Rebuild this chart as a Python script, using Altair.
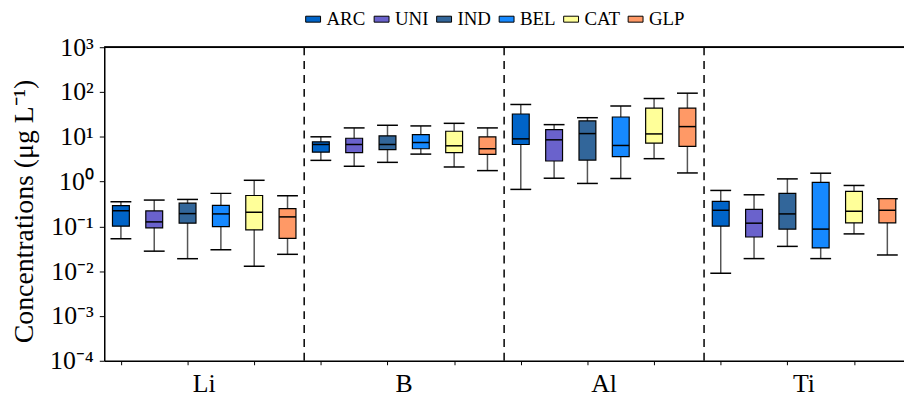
import altair as alt
import pandas as pd

elements = ["Li", "B", "Al", "Ti"]
sites = ["ARC", "UNI", "IND", "BEL", "CAT", "GLP"]
colors = ["#0064C8", "#6A62CC", "#32669A", "#1689FF", "#FFFF99", "#FF9966"]

# per element: ARC, UNI, IND, BEL, CAT, GLP
whisker_low = [0.053, 0.028, 0.019, 0.030, 0.0129, 0.0238,
               2.98, 2.2, 2.69, 4.11, 2.12, 1.76,
               0.67, 1.19, 0.91, 1.17, 3.25, 1.56,
               0.009, 0.0191, 0.0358, 0.0191, 0.068, 0.023]
q1 = [0.101, 0.093, 0.118, 0.099, 0.084, 0.054,
      4.55, 4.42, 5.15, 5.42, 4.42, 4.05,
      6.74, 2.88, 3.03, 3.6, 7.2, 6.1,
      0.101, 0.058, 0.087, 0.033, 0.12, 0.12]
median = [0.224, 0.126, 0.193, 0.19, 0.207, 0.163,
          6.74, 6.74, 6.74, 7.46, 6.3, 5.42,
          9.0, 8.57, 11.8, 6.41, 11.6, 16.9,
          0.229, 0.118, 0.19, 0.087, 0.218, 0.229]
q3 = [0.29, 0.221, 0.33, 0.296, 0.49, 0.249,
      7.74, 9.3, 10.5, 11.2, 13.3, 10.0,
      32.3, 14.5, 22.6, 27.7, 43.8, 43.8,
      0.363, 0.241, 0.546, 0.957, 0.604, 0.414]
whisker_high = [0.356, 0.387, 0.40, 0.546, 1.07, 0.483,
                10.0, 15.8, 18.1, 17.5, 20.0, 15.8,
                52.7, 18.7, 26.7, 48.5, 71.6, 94.2,
                0.635, 0.508, 1.15, 1.54, 0.82, 0.414]

y_ticks = [1e-4, 1e-3, 1e-2, 1e-1, 1e0, 1e1, 1e2, 1e3]
y_tick_labels = ["10⁻⁴", "10⁻³", "10⁻²", "10⁻¹", "10⁰", "10¹", "10²", "10³"]

rows = []
n = len(sites)
for ei, el in enumerate(elements):
    for si, s in enumerate(sites):
        k = ei * n + si
        rows.append(dict(element=el, site=s, pos=k + 0.5,
                         low=whisker_low[k], q1=q1[k], med=median[k],
                         q3=q3[k], high=whisker_high[k]))
df = pd.DataFrame(rows)
sep_df = pd.DataFrame({"x": [n * i for i in range(1, len(elements))]})
lab_df = pd.DataFrame({"element": elements,
                       "x": [n * i + n / 2 for i in range(len(elements))]})

W, H = 806, 316
FONT = "Times New Roman, Liberation Serif, Times, serif"

xscale = alt.Scale(domain=[0, n * len(elements)], nice=False, zero=False, padding=0)
yscale = alt.Scale(type="log", domain=[1e-4, 1e3], nice=False, padding=0)

label_expr = "[" + ",".join("'%s'" % t for t in y_tick_labels) + "][round(log(datum.value)/LN10)+4]"

xaxis = alt.Axis(values=list(df["pos"]), labels=False, title=None, grid=False,
                 tickSize=4, tickColor="black", domainColor="black",
                 domainWidth=1.5, tickWidth=1)
yaxis = alt.Axis(values=y_ticks, labelExpr=label_expr, grid=False,
                 title="Concentrations (μg L⁻¹)", titleFont=FONT,
                 titleFontSize=28, titleFontWeight="normal", titleColor="black",
                 titleX=-80, titleY=165, titleBaseline="middle", titleAlign="center",
                 titleAngle=270,
                 labelFont=FONT, labelFontSize=26, labelColor="black",
                 labelPadding=6, tickSize=5, tickColor="black",
                 domainColor="black", domainWidth=1.5, tickWidth=1)

base = alt.Chart(df)

whiskers = base.mark_rule(color="#555555", strokeWidth=1.5).encode(
    x=alt.X("pos:Q", scale=xscale, axis=xaxis),
    y=alt.Y("low:Q", scale=yscale, axis=yaxis),
    y2="high:Q",
)
cap_low = base.mark_tick(orient="horizontal", size=21, thickness=1.5,
                         color="black", opacity=1).encode(
    x=alt.X("pos:Q", scale=xscale), y=alt.Y("low:Q", scale=yscale))
cap_high = base.mark_tick(orient="horizontal", size=21, thickness=1.5,
                          color="black", opacity=1).encode(
    x=alt.X("pos:Q", scale=xscale), y=alt.Y("high:Q", scale=yscale))
boxes = base.mark_bar(size=17, stroke="black", strokeWidth=1.2).encode(
    x=alt.X("pos:Q", scale=xscale),
    y=alt.Y("q1:Q", scale=yscale),
    y2="q3:Q",
    color=alt.Color("site:N", scale=alt.Scale(domain=sites, range=colors),
                    sort=sites,
                    legend=alt.Legend(title=None, orient="none", legendX=201,
                                      legendY=-38, direction="horizontal",
                                      symbolType="M-1,-0.4H1V0.4H-1Z",
                                      symbolSize=225, symbolStrokeColor="black",
                                      symbolStrokeWidth=1, symbolOpacity=1,
                                      labelFont=FONT, labelFontSize=19,
                                      labelColor="black", labelOffset=4,
                                      columnPadding=6, padding=0)),
)
medians = base.mark_tick(orient="horizontal", size=17, thickness=1.5,
                         color="black", opacity=1).encode(
    x=alt.X("pos:Q", scale=xscale), y=alt.Y("med:Q", scale=yscale))

seps = alt.Chart(sep_df).mark_rule(color="black", strokeWidth=1.5,
                                   strokeDash=[8, 6]).encode(
    x=alt.X("x:Q", scale=xscale), y=alt.value(0), y2=alt.value(H))

top_line = alt.Chart(sep_df).mark_rule(color="black", strokeWidth=1.5).encode(
    x=alt.value(0), x2=alt.value(W), y=alt.value(0))

labels = alt.Chart(lab_df).mark_text(font=FONT, fontSize=26, color="black",
                                     baseline="alphabetic", align="center").encode(
    x=alt.X("x:Q", scale=xscale), y=alt.value(347), text="element:N")

chart = alt.layer(seps, whiskers, cap_low, cap_high, boxes, medians,
                  top_line, labels).properties(
    width=W, height=H,
    padding={"left": 97, "top": 38, "right": 0, "bottom": 38},
    autosize=alt.AutoSizeParams(type="none"),
).configure_view(stroke=None).configure(font=FONT)

chart.save("out.html", embed_options={"renderer": "svg", "actions": False})
